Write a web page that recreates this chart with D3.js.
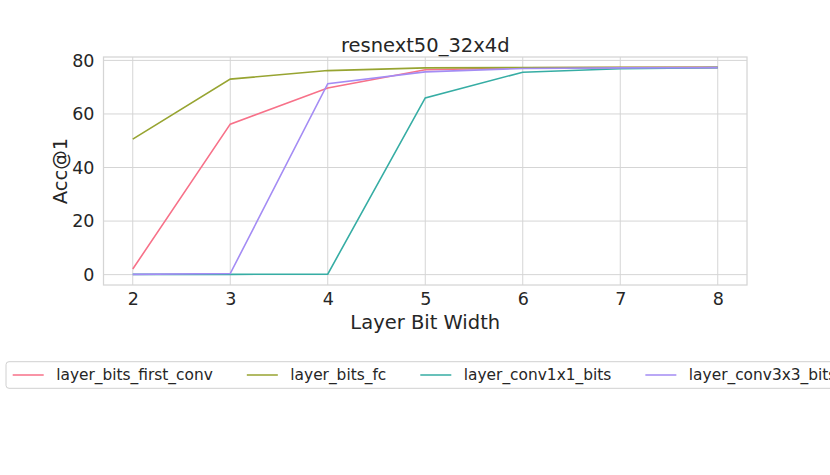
<!DOCTYPE html>
<html>
<head>
<meta charset="utf-8">
<script src="https://cdn.jsdelivr.net/npm/d3@7/dist/d3.min.js"></script>
<style>
  html, body { margin: 0; padding: 0; background: #fff; }
  svg { display: block; font-family: "DejaVu Sans", sans-serif; }
</style>
</head>
<body>
<svg id="chart" width="830" height="475"></svg>
<script>
const bitWidths = [2, 3, 4, 5, 6, 7, 8];
const seriesNames = ["layer_bits_first_conv", "layer_bits_fc", "layer_conv1x1_bits", "layer_conv3x3_bits"];
const firstConv = [2.1, 56.2, 69.7, 76.5, 77.2, 77.3, 77.4];
const fcBits = [50.6, 73.0, 76.2, 77.2, 77.3, 77.4, 77.4];
const conv1x1 = [0.1, 0.1, 0.2, 66.0, 75.6, 76.9, 77.3];
const conv3x3 = [0.1, 0.4, 71.3, 75.7, 77.0, 77.2, 77.3];
const seriesValues = [firstConv, fcBits, conv1x1, conv3x3];
const colors = ["#f77189", "#97a431", "#36ada4", "#a48cf4"];
const yTicks = [0, 20, 40, 60, 80];
const titleText = "resnext50_32x4d";
const xLabel = "Layer Bit Width";
const yLabel = "Acc@1";

(function () {
const svg = d3.select("#chart");
const pLeft = 103.5, pRight = 747, pTop = 57, pBottom = 285;
const textColor = "#262626";
const gridColor = "#d5d5d5";

const x = d3.scaleLinear().domain([1.7, 8.3]).range([pLeft, pRight]);
const y = d3.scaleLinear().domain([-3.87, 81.27]).range([pBottom, pTop]);

// grid
svg.append("g").selectAll("line").data(bitWidths).join("line")
  .attr("x1", d => x(d)).attr("x2", d => x(d))
  .attr("y1", pTop).attr("y2", pBottom)
  .attr("stroke", gridColor).attr("stroke-width", 1);
svg.append("g").selectAll("line").data(yTicks).join("line")
  .attr("x1", pLeft).attr("x2", pRight)
  .attr("y1", d => y(d)).attr("y2", d => y(d))
  .attr("stroke", gridColor).attr("stroke-width", 1);

// spines
svg.append("rect").attr("x", pLeft).attr("y", pTop)
  .attr("width", pRight - pLeft).attr("height", pBottom - pTop)
  .attr("fill", "none").attr("stroke", gridColor).attr("stroke-width", 1.25);

// axes
const xAxis = d3.axisBottom(x).tickValues(bitWidths).tickFormat(d3.format("d")).tickSize(0).tickPadding(8);
svg.append("g").attr("transform", `translate(0,${pBottom})`).call(xAxis)
  .call(g => g.select(".domain").remove())
  .selectAll("text").attr("font-size", 17.5).attr("fill", textColor)
  .attr("font-family", "DejaVu Sans");
const yAxis = d3.axisLeft(y).tickValues(yTicks).tickFormat(d3.format("d")).tickSize(0).tickPadding(9);
svg.append("g").attr("transform", `translate(${pLeft},0)`).call(yAxis)
  .call(g => g.select(".domain").remove())
  .selectAll("text").attr("font-size", 17.5).attr("fill", textColor)
  .attr("font-family", "DejaVu Sans");

// lines
const line = d3.line().x((d, i) => x(bitWidths[i])).y(d => y(d));
seriesValues.forEach((vals, k) => {
  svg.append("path").datum(vals)
    .attr("d", line)
    .attr("fill", "none")
    .attr("stroke", colors[k])
    .attr("stroke-width", 1.6);
});

// title and labels
svg.append("text").attr("x", (pLeft + pRight) / 2).attr("y", 51.5)
  .attr("text-anchor", "middle").attr("font-size", 19.5).attr("fill", textColor)
  .text(titleText);
svg.append("text").attr("x", (pLeft + pRight) / 2).attr("y", 328.5)
  .attr("text-anchor", "middle").attr("font-size", 19.5).attr("fill", textColor)
  .text(xLabel);
svg.append("text").attr("transform", `translate(66.5,${(pTop + pBottom) / 2}) rotate(-90)`)
  .attr("text-anchor", "middle").attr("font-size", 19.5).attr("fill", textColor)
  .text(yLabel);

// legend
const lg = svg.append("g");
lg.append("rect").attr("x", 6).attr("y", 361.7).attr("width", 900).attr("height", 26.6)
  .attr("rx", 3).attr("fill", "#fff").attr("stroke", "#d0d0d0").attr("stroke-width", 1);
let cx = 12.7;
const ly = 375;
seriesNames.forEach((name, k) => {
  lg.append("line").attr("x1", cx).attr("x2", cx + 31).attr("y1", ly).attr("y2", ly)
    .attr("stroke", colors[k]).attr("stroke-width", 2).attr("opacity", 0.75);
  const t = lg.append("text").attr("x", cx + 31 + 12.5).attr("y", ly)
    .attr("dy", "0.35em").attr("font-size", 15.4).attr("fill", textColor).text(name);
  const w = t.node().getComputedTextLength();
  cx = cx + 31 + 12.5 + w + 34;
});
})();
</script>
</body>
</html>
